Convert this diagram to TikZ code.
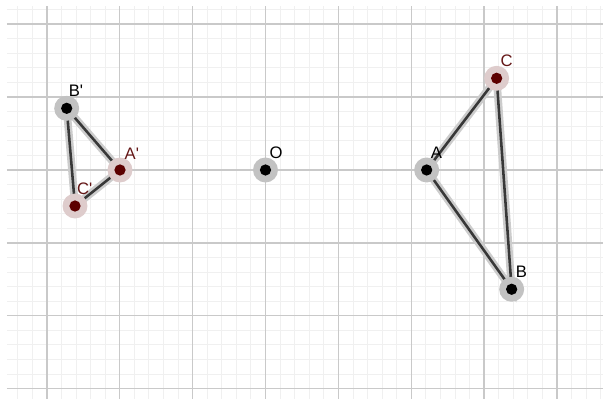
\documentclass[tikz,border=0pt]{standalone}
\usepackage{fontspec}
\setmainfont{Liberation Sans}
\usepackage{xcolor}
\usetikzlibrary{positioning}
\definecolor{ptred}{RGB}{92,0,0}
\definecolor{lbred}{RGB}{100,22,22}

\begin{document}
\begin{tikzpicture}[x=2cm,y=2cm,
  gmin/.style={line width=0.7pt,black!6},
  gmaj/.style={line width=1.1pt,black!21},
  sgh/.style={line width=6pt,black!20,line cap=round},
  sg/.style={line width=2pt,black!78},
  hl/.style={circle,fill=black!24,inner sep=0pt,minimum size=19.5pt},
  rhl/.style={hl,fill=ptred!20},
  nd/.style={circle,fill=black,inner sep=0pt,minimum size=8.8pt},
  rnd/.style={nd,fill=ptred},
  lb/.style={inner sep=0pt,font=\fontsize{13}{15}\selectfont},
  rlb/.style={lb,text=lbred}
]
\useasboundingbox (-3.642,-3.141) rectangle (4.630,2.332);
% ---- grid ----
\draw[gmin,step=0.2] (-3.546,-3.141) grid (4.630,2.250);
\draw[gmaj,step=1] (-3.546,-3.141) grid (4.630,2.250);
% ---- points ----
\coordinate (O)  at (0,0);
\coordinate (A)  at (2.211,0);
\coordinate (B)  at (3.377,-1.636);
\coordinate (C)  at (3.171,1.258);
\coordinate (Ap) at (-1.996,0);
\coordinate (Bp) at (-2.727,0.846);
\coordinate (Cp) at (-2.613,-0.494);
% ---- triangles ----
\draw[sgh] (A)--(B)--(C)--cycle;
\draw[sgh] (Ap)--(Bp)--(Cp)--cycle;
\draw[sg] (A)--(B)--(C)--cycle;
\draw[sg] (Ap)--(Bp)--(Cp)--cycle;
% ---- dots ----
\foreach \p in {O,A,B,Bp} \node[hl] at (\p) {};
\foreach \p in {C,Ap,Cp} \node[rhl] at (\p) {};
\node[nd]  (dO)  at (O)  {};
\node[nd]  (dA)  at (A)  {};
\node[nd]  (dB)  at (B)  {};
\node[rnd] (dC)  at (C)  {};
\node[rnd] (dAp) at (Ap) {};
\node[nd]  (dBp) at (Bp) {};
\node[rnd] (dCp) at (Cp) {};
% ---- labels ----
\node[lb,above right=9pt and 3pt of O]    (lO)  {O};
\node[lb,above right=9pt and 3pt of A]    (lA)  {A};
\node[lb,above right=9pt and 3pt of B]    (lB)  {B};
\node[rlb,above right=9pt and 3pt of C]   (lC)  {C};
\node[rlb,above right=8pt and 3.5pt of Ap] (lAp) {A\textquotesingle};
\node[lb,above right=9pt and 1.5pt of Bp] (lBp) {B\textquotesingle};
\node[rlb,above right=9pt and 1.5pt of Cp] (lCp) {C\textquotesingle};
\end{tikzpicture}
\end{document}
